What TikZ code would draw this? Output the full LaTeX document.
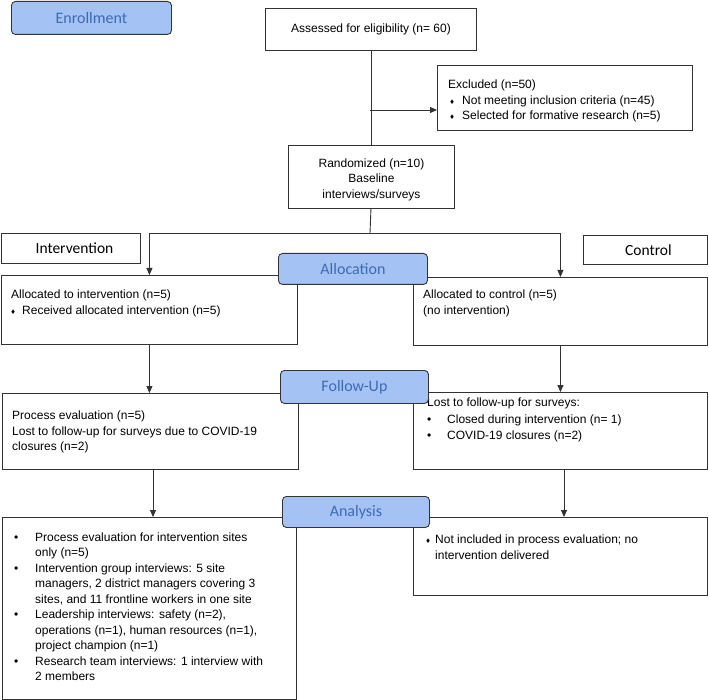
\documentclass[tikz,border=0pt]{standalone}
\usepackage{fontspec}
\setmainfont{Liberation Sans}
\newfontfamily\calib{Carlito}
\usetikzlibrary{arrows.meta}
\definecolor{lblfill}{HTML}{A4C2F4}
\definecolor{lbltext}{HTML}{3D6BB3}
\definecolor{edge}{HTML}{333333}
\newcommand\mydia{{\fontsize{8}{8}\selectfont ♦}}
\tikzset{
 box/.style={draw=edge, line width=0.9pt, anchor=north west, inner sep=0pt, align=center, font=\fontsize{12}{15.5}\selectfont},
 txt/.style={anchor=north west, inner sep=0pt, align=left, font=\fontsize{12}{15.5}\selectfont},
 phase/.style={draw=edge, line width=0.9pt, fill=lblfill, rounded corners=4pt, anchor=north west, text=lbltext, font=\calib\fontsize{16}{18}\selectfont, inner sep=0pt},
 grp/.style={draw=edge, line width=0.9pt, anchor=north west, inner sep=0pt, font=\calib\fontsize{15.5}{18}\selectfont},
 arr/.style={-{Triangle[length=7pt,width=6pt]}, line width=0.9pt, draw=edge},
 ln/.style={line width=0.9pt, draw=edge},
}
\begin{document}
\begin{tikzpicture}[x=1pt,y=-1pt]
\useasboundingbox (0,0) rectangle (709,700);
% boxes
\node[box, minimum width=211pt, minimum height=42pt] (assess) at (265,8) {Assessed for eligibility (n= 60)};
\node[box, minimum width=255pt, minimum height=65pt] (excl) at (437,65) {};
\node[box, minimum width=166pt, minimum height=63pt] (rand) at (288,145) {};
\node[box, draw=none, anchor=center] (randt) at ([yshift=-2.5pt]rand.center) {Randomized (n=10)\\Baseline\\interviews/surveys};
\node[grp, minimum width=139pt, minimum height=30pt] (interv) at (0.5,233) {\hspace{8pt}Intervention};
\node[grp, minimum width=124pt, minimum height=29pt] (ctrl) at (583,235) {\hspace{6pt}Control};
\node[box, minimum width=296pt, minimum height=69pt] (alloc1) at (1,275) {};
\node[box, minimum width=294pt, minimum height=68pt] (alloc2) at (413,277) {};
\node[box, minimum width=296pt, minimum height=76pt] (fu1) at (2,393) {};
\node[box, minimum width=294pt, minimum height=77pt] (fu2) at (413,392) {};
\node[box, minimum width=294pt, minimum height=182pt] (an1) at (2,517) {};
\node[box, minimum width=294pt, minimum height=78pt] (an2) at (413,517) {};
% texts
\node[txt] (exclt) at (448,80) {Excluded (n=50)\\\hspace{2pt}\makebox[12pt][l]{\mydia}Not meeting inclusion criteria (n=45)\\\hspace{2pt}\makebox[12pt][l]{\mydia}Selected for formative research (n=5)};
\node[txt] (alloc1t) at (11,290) {Allocated to intervention (n=5)\\\makebox[11pt][l]{\mydia}Received allocated intervention (n=5)};
\node[txt] (alloc2t) at (423,290) {Allocated to control (n=5)\\(no intervention)};
\node[txt] (fu1t) at (12,411) {Process evaluation (n=5)\\Lost to follow-up for surveys due to COVID-19\\closures (n=2)};
\node[txt, font=\fontsize{12}{16.5}\selectfont] (fu2t) at (427,398) {Lost to follow-up for surveys:\\\makebox[20pt][l]{•}Closed during intervention (n= 1)\\\makebox[20pt][l]{•}COVID-19 closures (n=2)};
\node[txt] (an1t) at (14,530) {\begin{tabular}{@{}p{21pt}@{}l@{}}
• & Process evaluation for intervention sites\\
 & only (n=5)\\
• & Intervention group interviews: 5 site\\
 & managers, 2 district managers covering 3\\
 & sites, and 11 frontline workers in one site\\
• & Leadership interviews: safety (n=2),\\
 & operations (n=1), human resources (n=1),\\
 & project champion (n=1)\\
• & Research team interviews: 1 interview with\\
 & 2 members
\end{tabular}};
\node[txt] (an2t) at (426,535) {\makebox[9pt][l]{\mydia}Not included in process evaluation; no\\\hspace{9pt}intervention delivered};
% phase labels
\node[phase, minimum width=160pt, minimum height=33pt] (enr) at (11,1) {Enrollment};
\node[phase, minimum width=149pt, minimum height=31pt] (allo) at (278,253) {Allocation};
\node[phase, minimum width=148pt, minimum height=33pt] (fol) at (280,370) {Follow-Up};
\node[phase, minimum width=147pt, minimum height=31pt] (ana) at (282,496) {Analysis};
% connectors
\draw[ln] (assess.south) -- (assess.south |- rand.north);
\coordinate (ex) at (370,110);
\draw[arr] (ex) -- (ex -| excl.west);
\coordinate (split) at (370,233);
\draw[ln] (assess.south |- rand.south) -- (split);
\draw[ln] (split -| alloc1.north) -- (split -| alloc2.north);
\draw[arr] (split -| alloc1.north) -- (alloc1.north);
\draw[arr] (split -| alloc2.north) -- (alloc2.north);
\draw[arr] (alloc1.south) -- (alloc1.south |- fu1.north);
\draw[arr] (alloc2.south) -- (alloc2.south |- fu2.north);
\coordinate (l3) at (153,469);
\coordinate (r3) at (564,469);
\draw[arr] (l3) -- (l3 |- an1.north);
\draw[arr] (r3) -- (r3 |- an2.north);
\end{tikzpicture}
\end{document}
